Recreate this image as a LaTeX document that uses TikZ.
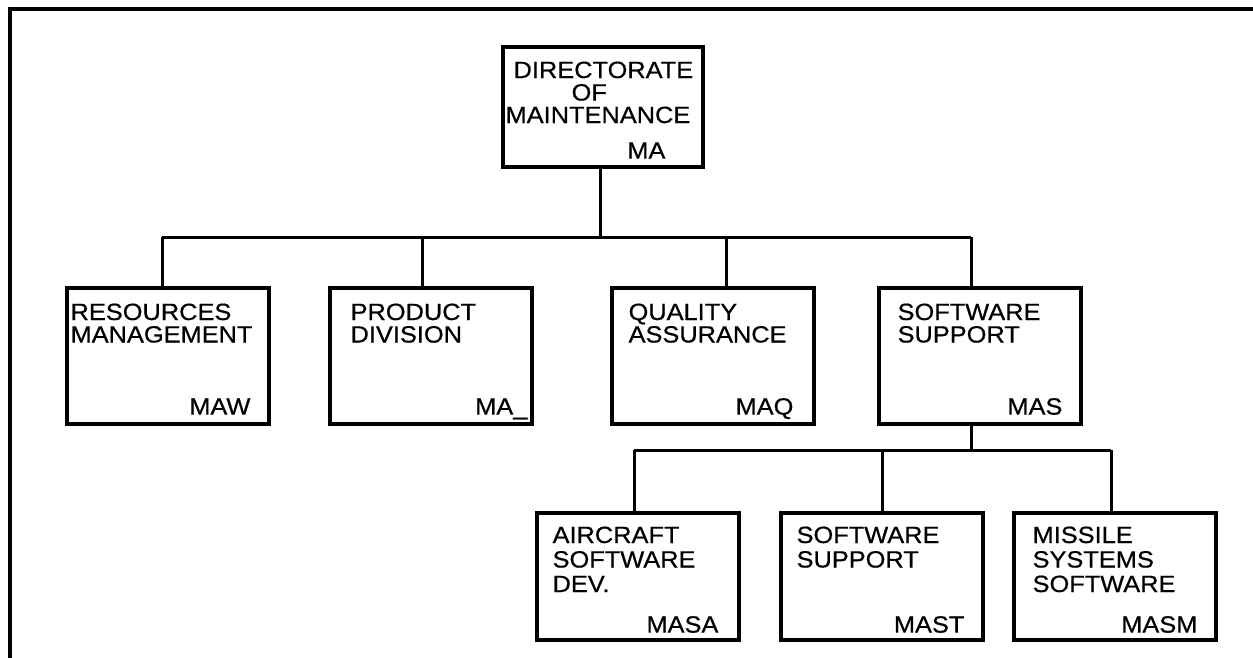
\documentclass[tikz,border=0pt]{standalone}
\usepackage{fontspec}
\setmainfont[FakeStretch=1.08,FakeBold=0.6]{Liberation Sans}
\usetikzlibrary{positioning}

\newcommand\orgfont{\fontsize{23.5}{22.5}\selectfont}
\tikzset{
  unit/.style={draw, line width=3.2pt, inner sep=0pt, minimum width=202pt, minimum height=136pt},
  subunit/.style={unit, minimum height=127pt},
  title/.style={anchor=north west, align=left, inner sep=0pt, font=\orgfont},
  code/.style={anchor=base east, inner sep=0pt, font=\orgfont},
  link/.style={line width=3pt},
}

\begin{document}
\begin{tikzpicture}[x=1pt,y=-1pt]
	\useasboundingbox (0,0) rectangle (1253,658);
	% frame
	\draw[line width=4.5pt] (10,658) -- (10,9) -- (1253,9);

	% directorate
	\node[unit, minimum width=200pt, minimum height=120pt] (ma) at (603,107) {};
	\node[title] (matitle) at ([xshift=12pt,yshift=-16pt]ma.north west) {DIRECTORATE\\\hspace*{58pt}OF\\\hspace*{-8pt}MAINTENANCE};
	\node[code] (macode) at ([xshift=-39pt,yshift=10pt]ma.south east) {MA};

	% divisions
	\node[unit] (maw) at (168,356) {};
	\node[unit] (mad) at (431,356) {};
	\node[unit] (maq) at (713,356) {};
	\node[unit] (mas) at (980,356) {};
	\node[title] at ([xshift=5pt,yshift=-17pt]maw.north west) {RESOURCES\\MANAGEMENT};
	\node[code] at ([xshift=-20pt,yshift=11pt]maw.south east) {MAW};
	\node[title] at ([xshift=22pt,yshift=-17pt]mad.north west) {PRODUCT\\DIVISION};
	\node[code] at ([xshift=-6pt,yshift=11pt]mad.south east) {MA\_};
	\node[title] at ([xshift=18pt,yshift=-17pt]maq.north west) {QUALITY\\ASSURANCE};
	\node[code] at ([xshift=-22pt,yshift=11pt]maq.south east) {MAQ};
	\node[title] at ([xshift=20pt,yshift=-17pt]mas.north west) {SOFTWARE\\SUPPORT};
	\node[code] at ([xshift=-20pt,yshift=11pt]mas.south east) {MAS};

	% branches of software support
	\node[subunit] (masa) at (638,576.5) {};
	\node[subunit] (mast) at (882,576.5) {};
	\node[subunit] (masm) at (1115,576.5) {};
	\node[title] at ([xshift=17pt,yshift=-15pt]masa.north west) {AIRCRAFT\\[2pt]SOFTWARE\\[2pt]DEV.};
	\node[code] at ([xshift=-22pt,yshift=9pt]masa.south east) {MASA};
	\node[title] at ([xshift=17pt,yshift=-15pt]mast.north west) {SOFTWARE\\[2pt]SUPPORT};
	\node[code] at ([xshift=-20pt,yshift=9pt]mast.south east) {MAST};
	\node[title] at ([xshift=20pt,yshift=-15pt]masm.north west) {MISSILE\\[2pt]SYSTEMS\\[2pt]SOFTWARE};
	\node[code] at ([xshift=-20pt,yshift=9pt]masm.south east) {MASM};

	% connectors
	\coordinate (bus) at (0,237);
	\coordinate (subbus) at (0,450);
	\draw[link] ([xshift=-3pt]ma.south) -- ([xshift=-3pt]ma.south |- bus);
	\draw[link] ([xshift=-6pt]maw.north |- bus) -- ([xshift=-9pt]mas.north |- bus);
	\foreach \u/\dx in {maw/-6, mad/-9, maq/13, mas/-9}
		\draw[link] ([xshift=\dx pt]\u.north) -- ([xshift=\dx pt]\u.north |- bus);
	\draw[link] ([xshift=-9pt]mas.south) -- ([xshift=-9pt]mas.south |- subbus);
	\draw[link] ([xshift=-4pt]masa.north |- subbus) -- ([xshift=-4pt]masm.north |- subbus);
	\foreach \u/\dx in {masa/-4, mast/0, masm/-4}
		\draw[link] ([xshift=\dx pt]\u.north) -- ([xshift=\dx pt]\u.north |- subbus);
\end{tikzpicture}
\end{document}
